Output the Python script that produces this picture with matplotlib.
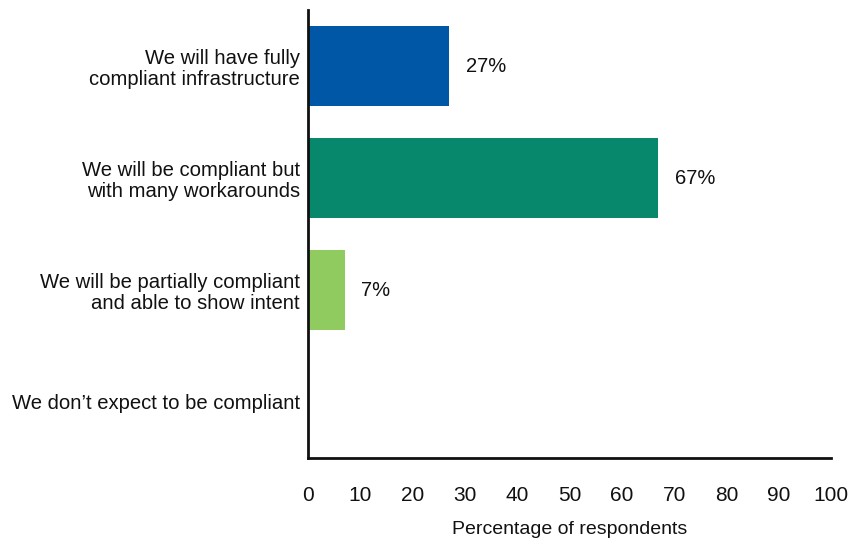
import matplotlib
matplotlib.use("Agg")
import matplotlib.pyplot as plt

categories = [
    "We will have fully\ncompliant infrastructure",
    "We will be compliant but\nwith many workarounds",
    "We will be partially compliant\nand able to show intent",
    "We don\u2019t expect to be compliant",
]
values = [27, 67, 7, 0]
value_labels = ["27%", "67%", "7%", None]
colors = ["#0057a5", "#07876b", "#8fcb5e", "#ffffff"]
xticks = list(range(0, 101, 10))

plt.rcParams["font.family"] = ["Liberation Sans", "DejaVu Sans"]

fig = plt.figure(figsize=(8.62, 5.42), dpi=100)
ax = fig.add_axes([0.3573, 0.155, 0.9640 - 0.3573, 0.8265])

pos = list(range(len(categories)))
ax.barh(pos, values, height=0.72, color=colors)
for y, v, lab in zip(pos, values, value_labels):
    if lab:
        ax.text(v + 3.2, y, lab, va="center", ha="left", fontsize=14.5, color="#111111")

ax.set_xlim(0, 100)
ax.set_ylim(3.5, -0.5)
ax.set_yticks(pos)
ax.set_yticklabels(categories, fontsize=14.6, color="#111111", linespacing=1.15)
ax.set_xticks(xticks)
ax.set_xticklabels([str(t) for t in xticks], fontsize=15, color="#111111")
ax.tick_params(axis="both", length=0)
ax.tick_params(axis="y", pad=6)
ax.tick_params(axis="x", pad=20)
ax.set_xlabel("Percentage of respondents", fontsize=14, color="#111111", labelpad=12)

for side in ("top", "right"):
    ax.spines[side].set_visible(False)
for side in ("left", "bottom"):
    ax.spines[side].set_linewidth(2)
    ax.spines[side].set_color("#111111")

fig.savefig("out.png", dpi=100)
